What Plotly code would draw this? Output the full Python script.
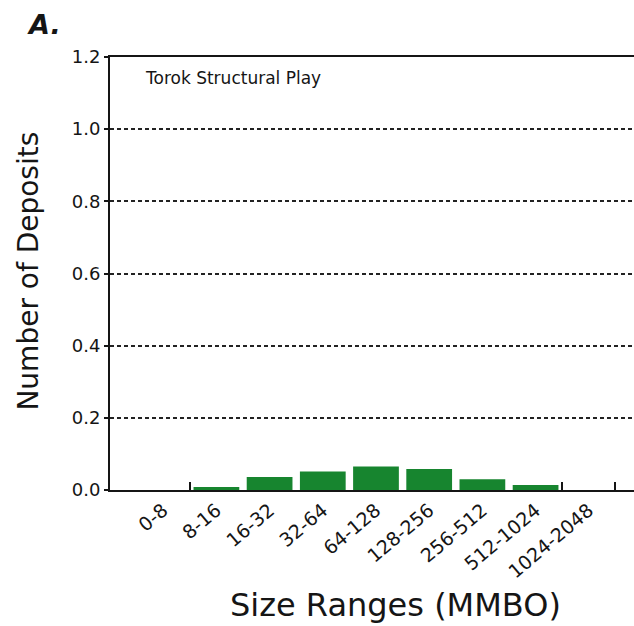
import plotly.graph_objects as go

# ---- data ----
size_ranges = ["0-8", "8-16", "16-32", "32-64", "64-128", "128-256",
               "256-512", "512-1024", "1024-2048"]
num_deposits = [0.0, 0.008, 0.036, 0.051, 0.065, 0.058, 0.030, 0.014, 0.0]
y_ticks = [0.0, 0.2, 0.4, 0.6, 0.8, 1.0, 1.2]
boundary_ticks = [0.5, 7.5, 8.5]

FONT = "DejaVu Sans"
INK = "#151515"
X_RANGE = [-1.0, 8.85]

fig = go.Figure()
fig.add_trace(go.Bar(
    x=size_ranges, y=num_deposits,
    marker=dict(color="#17852f", line=dict(width=0)),
    width=0.86,
    showlegend=False,
))
# empty helper trace on secondary axis carrying boundary tick marks
fig.add_trace(go.Scatter(x=[], y=[], xaxis="x2", yaxis="y", showlegend=False))

fig.update_layout(
    width=634, height=626,
    margin=dict(l=110, r=0, t=57, b=136),
    paper_bgcolor="white", plot_bgcolor="white",
    font=dict(family=FONT, color=INK),
    xaxis=dict(
        type="category",
        range=X_RANGE,
        showline=True, linecolor=INK, linewidth=2, mirror=True,
        showgrid=False, zeroline=False,
        ticks="", tickangle=-40,
        tickfont=dict(family=FONT, size=19, color=INK),
    ),
    xaxis2=dict(
        overlaying="x", anchor="y", side="bottom",
        range=X_RANGE, type="linear",
        tickvals=boundary_ticks, showticklabels=False,
        ticks="inside", ticklen=8, tickwidth=2, tickcolor=INK,
        showgrid=False, zeroline=False, showline=False,
    ),
    yaxis=dict(
        range=[0, 1.2],
        tickvals=y_ticks, tickformat=".1f",
        showline=True, linecolor=INK, linewidth=2,
        ticks="outside", ticklen=4, tickwidth=2, tickcolor=INK,
        showgrid=True, gridcolor="#222222", gridwidth=2, griddash="4px,3px",
        zeroline=False,
        tickfont=dict(family=FONT, size=18, color=INK),
    ),
    annotations=[
        dict(text="<b><i>A.</i></b>", xref="paper", yref="paper",
             x=-0.162, y=1.075, xanchor="left", yanchor="middle",
             showarrow=False, font=dict(family=FONT, size=27, color=INK)),
        dict(text="Torok Structural Play", xref="paper", yref="paper",
             x=0.063, y=0.951, xanchor="left", yanchor="middle",
             showarrow=False, font=dict(family=FONT, size=17, color=INK)),
        dict(text="Number of Deposits", xref="paper", yref="paper",
             x=-0.156, y=0.505, xanchor="center", yanchor="middle",
             textangle=-90, showarrow=False,
             font=dict(family=FONT, size=28, color=INK)),
        dict(text="Size Ranges (MMBO)", xref="paper", yref="paper",
             x=0.544, y=-0.266, xanchor="center", yanchor="middle",
             showarrow=False, font=dict(family=FONT, size=32, color=INK)),
    ],
)

fig.write_html("out.html")
